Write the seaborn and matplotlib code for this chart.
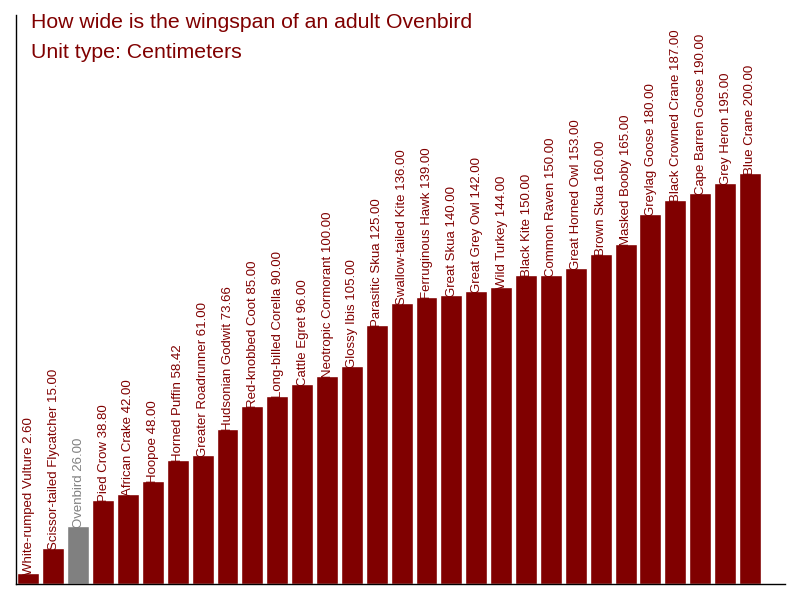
import matplotlib
matplotlib.use("Agg")
import matplotlib.pyplot as plt
import seaborn as sns
import pandas as pd

birds = ["White-rumped Vulture", "Scissor-tailed Flycatcher", "Ovenbird", "Pied Crow",
         "African Crake", "Hoopoe", "Horned Puffin", "Greater Roadrunner", "Hudsonian Godwit",
         "Red-knobbed Coot", "Long-billed Corella", "Cattle Egret", "Neotropic Cormorant",
         "Glossy Ibis", "Parasitic Skua", "Swallow-tailed Kite", "Ferruginous Hawk",
         "Great Skua", "Great Grey Owl", "Wild Turkey", "Black Kite", "Common Raven",
         "Great Horned Owl", "Brown Skua", "Masked Booby", "Greylag Goose",
         "Black Crowned Crane", "Cape Barren Goose", "Grey Heron", "Blue Crane"]
wingspan = [2.60, 15.00, 26.00, 38.80, 42.00, 48.00, 58.42, 61.00, 73.66, 85.00, 90.00,
            96.00, 100.00, 105.00, 125.00, 136.00, 139.00, 140.00, 142.00, 144.00, 150.00,
            150.00, 153.00, 160.00, 165.00, 180.00, 187.00, 190.00, 195.00, 200.00]
highlight = "Ovenbird"
title_lines = ["How wide is the wingspan of an adult Ovenbird", "Unit type: Centimeters"]

RED = "#800000"
GREY = "#808080"
BASE = -2.6

sns.set_style("white")
plt.rcParams["font.family"] = ["Liberation Sans", "DejaVu Sans"]

df = pd.DataFrame({"bird": birds, "wingspan": wingspan})
colors = {b: (GREY if b == highlight else RED) for b in birds}

fig = plt.figure(figsize=(8, 6), dpi=100)
ax = fig.add_axes([0.02, 0.0267, 0.961, 0.9483])
sns.barplot(data=df, x="bird", y="wingspan", hue="bird", order=birds, hue_order=birds,
            palette=colors, legend=False, width=0.88, saturation=1, ax=ax)

# extend bars down to the visible baseline
for p in ax.patches:
    h = p.get_height()
    p.set_y(BASE)
    p.set_height(h - BASE)

for i, (b, v) in enumerate(zip(birds, wingspan)):
    ax.text(i + 0.02, v - 1.0, f"{b} {v:.2f}", rotation=90, ha="center", va="bottom",
            fontsize=9.5, color=(GREY if b == highlight else RED))

ax.set_xlim(-0.5, 30.4)
ax.set_ylim(BASE, 278)
ax.set_xticks([])
ax.set_yticks([])
ax.set_xlabel("")
ax.set_ylabel("")
for s in ["top", "right"]:
    ax.spines[s].set_visible(False)
for s in ["left", "bottom"]:
    ax.spines[s].set_color("black")
    ax.spines[s].set_linewidth(1)

fig.text(31 / 800, 1 - 22 / 600, title_lines[0], fontsize=15.3, color=RED, va="center", ha="left")
fig.text(31 / 800, 1 - 52 / 600, title_lines[1], fontsize=15.3, color=RED, va="center", ha="left")

fig.savefig("out.png", dpi=100)
